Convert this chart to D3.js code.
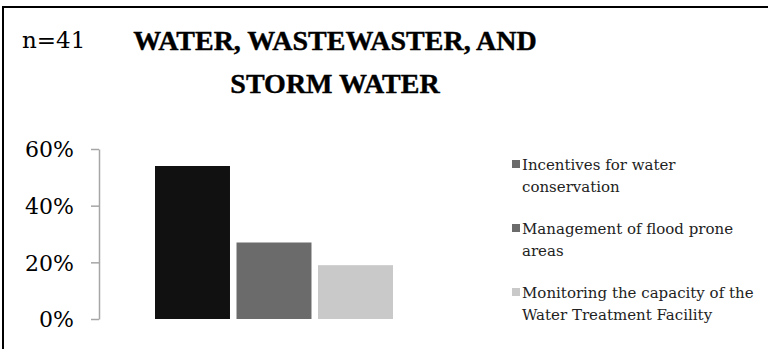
<!DOCTYPE html>
<html>
<head>
<meta charset="utf-8">
<script src="https://cdn.jsdelivr.net/npm/d3@7"></script>
<style>
  html, body { margin: 0; padding: 0; background: #fff; }
  svg { display: block; }
</style>
</head>
<body>
<svg id="chart" width="768" height="349"></svg>
<script>
// ---- data ----
const categories = [""];
const seriesNames = [
  "Incentives for water conservation",
  "Management of flood prone areas",
  "Monitoring the capacity of the Water Treatment Facility"
];
const seriesValues = [0.54, 0.27, 0.19];
const legendLines = [
  ["Incentives for water", "conservation"],
  ["Management of flood prone", "areas"],
  ["Monitoring the capacity of the", "Water Treatment Facility"]
];
const yTicks = [0, 0.2, 0.4, 0.6];
const titleLines = ["WATER, WASTEWASTER, AND", "STORM WATER"];
const sampleLabel = "n=41";

// ---- styles ----
const barColors = ["#111111", "#6b6b6b", "#c9c9c9"];
const swatchColors = ["#6b6b6b", "#6b6b6b", "#c9c9c9"];
const serif = "'DejaVu Serif', serif";

const svg = d3.select("#chart");

// frame (top and left edges visible)
svg.append("line").attr("x1", 3).attr("x2", 768).attr("y1", 7).attr("y2", 7)
  .attr("stroke", "#000").attr("stroke-width", 2);
svg.append("line").attr("x1", 3).attr("x2", 3).attr("y1", 6).attr("y2", 349)
  .attr("stroke", "#000").attr("stroke-width", 2);

// title
svg.append("text").attr("x", 22).attr("y", 48)
  .attr("font-family", serif).attr("font-size", 23).attr("fill", "#000")
  .text(sampleLabel);
svg.selectAll("text.title").data(titleLines).join("text")
  .attr("class", "title")
  .attr("x", 335).attr("y", (d, i) => 50 + i * 43)
  .attr("text-anchor", "middle")
  .attr("font-family", "'Liberation Serif', serif")
  .attr("font-weight", "bold").attr("font-size", 28).attr("fill", "#000")
  .attr("stroke", "#000").attr("stroke-width", 0.4)
  .text(d => d);

// scales
const y = d3.scaleLinear().domain([0, 0.6]).range([319, 149]);
const x0 = d3.scaleBand().domain(categories).range([99, 449])
  .paddingInner(0.32).paddingOuter(0.16);
const x1 = d3.scaleBand().domain(d3.range(seriesValues.length))
  .range([0, x0.bandwidth()]).paddingInner(0.08);

// y axis
const yAxis = d3.axisLeft(y).tickValues(yTicks).tickFormat(d3.format(".0%"))
  .tickSize(8).tickSizeOuter(0).tickPadding(17);
const ga = svg.append("g").attr("transform", "translate(99,0)").call(yAxis);
ga.select(".domain").attr("stroke", "#a6a6a6").attr("stroke-width", 1.5);
ga.selectAll(".tick line").attr("stroke", "#a6a6a6").attr("stroke-width", 1.5);
ga.selectAll(".tick text").attr("font-family", serif).attr("font-size", 22)
  .attr("fill", "#000").attr("dy", "0.36em");

// bars
const g = svg.append("g");
categories.forEach(cat => {
  g.selectAll("rect.bar").data(seriesValues).join("rect")
    .attr("class", "bar")
    .attr("x", (d, i) => x0(cat) + x1(i))
    .attr("width", x1.bandwidth())
    .attr("y", d => y(d))
    .attr("height", d => y(0) - y(d))
    .attr("fill", (d, i) => barColors[i]);
});

// legend
const lg = svg.append("g").attr("transform", "translate(512,0)");
const item = lg.selectAll("g.item").data(seriesNames).join("g")
  .attr("class", "item")
  .attr("transform", (d, i) => `translate(0,${170 + i * 64})`);
item.append("rect").attr("x", 0).attr("y", -10).attr("width", 8).attr("height", 8)
  .attr("fill", (d, i) => swatchColors[i]);
item.each(function(d, i) {
  d3.select(this).selectAll("text").data(legendLines[i]).join("text")
    .attr("x", 10).attr("y", (t, j) => j * 22)
    .attr("font-family", serif).attr("font-size", 15).attr("fill", "#222")
    .text(t => t);
});
</script>
</body>
</html>
